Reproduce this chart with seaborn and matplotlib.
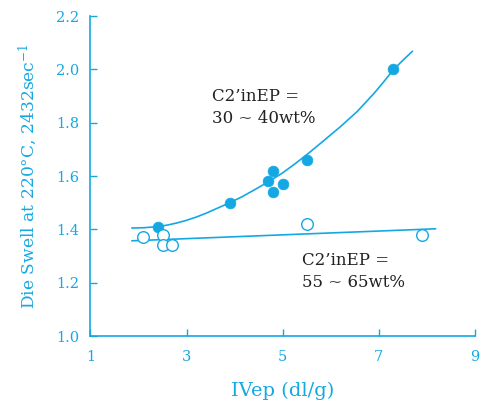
import matplotlib
matplotlib.use("Agg")
import matplotlib.pyplot as plt
import seaborn as sns

# data
filled_x = [2.4, 3.9, 4.7, 4.8, 4.8, 5.0, 5.5, 7.3]
filled_y = [1.41, 1.50, 1.58, 1.62, 1.54, 1.57, 1.66, 2.00]
open_x = [2.1, 2.5, 2.5, 2.7, 5.5, 7.9]
open_y = [1.37, 1.38, 1.34, 1.34, 1.42, 1.38]

# fitted curves
upper_x = [1.86, 2.1, 2.4, 2.6, 2.8, 3.0, 3.2, 3.4, 3.6, 3.9, 4.15, 4.4, 4.7, 5.0, 5.25, 5.5,
           5.85, 6.2, 6.55, 6.9, 7.1, 7.3, 7.5, 7.7]
upper_y = [1.405, 1.406, 1.41, 1.416, 1.424, 1.434, 1.446, 1.46, 1.476, 1.50, 1.522, 1.547,
           1.578, 1.612, 1.645, 1.68, 1.732, 1.785, 1.842, 1.91, 1.953, 1.998, 2.034, 2.068]
lower_x = [1.86, 8.18]
lower_y = [1.357, 1.402]

x_ticks = [1, 3, 5, 7, 9]
y_ticks = [1.0, 1.2, 1.4, 1.6, 1.8, 2.0, 2.2]
x_label = "IVep (dl/g)"
y_label = "Die Swell at 220°C, 2432sec$^{-1}$"
label_upper = "C2’inEP =\n30 ~ 40wt%"
label_lower = "C2’inEP =\n55 ~ 65wt%"

C = "#14a8e3"
TXT = "#222222"

sns.set_style("ticks")
plt.rcParams["font.family"] = ["DejaVu Serif"]
plt.rcParams["mathtext.fontset"] = "dejavuserif"

fig = plt.figure(figsize=(4.85, 4.05), dpi=100)
ax = fig.add_axes([90.5 / 485, 69 / 405, (475 - 90.5) / 485, (336 - 16) / 405])

sns.lineplot(x=upper_x, y=upper_y, ax=ax, color=C, lw=1.2, sort=False)
sns.lineplot(x=lower_x, y=lower_y, ax=ax, color=C, lw=1.2, sort=False)
sns.scatterplot(x=filled_x, y=filled_y, ax=ax, color=C, s=60, edgecolor=C, linewidth=0.5, zorder=3)
sns.scatterplot(x=open_x, y=open_y, ax=ax, facecolor="white", edgecolor=C, s=70, linewidth=1.0, zorder=3)

ax.set_xlim(1, 9)
ax.set_ylim(1.0, 2.2)
ax.set_xticks(x_ticks)
ax.set_xticklabels([str(v) for v in x_ticks])
ax.set_yticks(y_ticks)
ax.set_yticklabels([f"{v:.1f}" for v in y_ticks])
ax.tick_params(direction="in", length=5, width=1.0, color=C, labelcolor=C, labelsize=10.5)
ax.tick_params(axis="x", pad=10)
ax.tick_params(axis="y", pad=8)
for s in ["top", "right"]:
    ax.spines[s].set_visible(False)
for s in ["left", "bottom"]:
    ax.spines[s].set_color(C)
    ax.spines[s].set_linewidth(1.2)

ax.set_xlabel(x_label, color=C, fontsize=14, labelpad=13)
ax.set_ylabel(y_label, color=C, fontsize=12.3, labelpad=12)

ax.text(3.53, 1.93, label_upper, color=TXT, fontsize=12, va="top", ha="left", linespacing=1.35)
ax.text(5.40, 1.315, label_lower, color=TXT, fontsize=12, va="top", ha="left", linespacing=1.35)

fig.savefig("out.png", dpi=100)
